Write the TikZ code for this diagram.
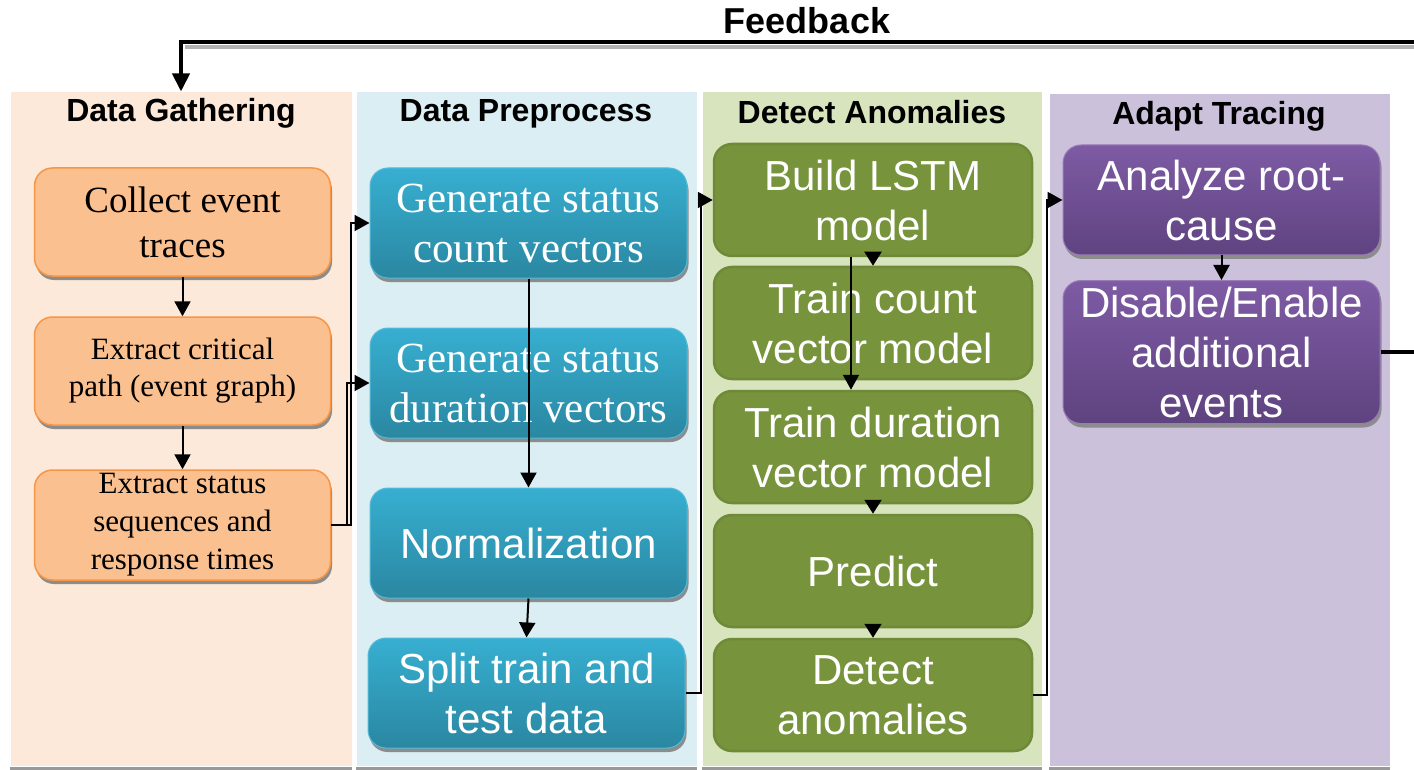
\documentclass[tikz,border=0pt]{standalone}
\usepackage{fontspec}
\setmainfont{Liberation Serif}
\setsansfont{Liberation Sans}
\usetikzlibrary{arrows.meta,shadows}
\definecolor{cAbg}{HTML}{FDE9D9}
\definecolor{cBbg}{HTML}{DAEEF3}
\definecolor{cCbg}{HTML}{D7E4BD}
\definecolor{cDbg}{HTML}{CCC1DA}
\definecolor{orF}{HTML}{FAC090}
\definecolor{orD}{HTML}{F79646}
\definecolor{blT}{HTML}{37AFD1}
\definecolor{blM}{HTML}{33A3C4}
\definecolor{blB}{HTML}{2A87A1}
\definecolor{grF}{HTML}{77933C}
\definecolor{grD}{HTML}{6E8A38}
\definecolor{puT}{HTML}{7E5BA4}
\definecolor{puM}{HTML}{74529A}
\definecolor{puB}{HTML}{5F4380}
\tikzset{
  colbg/.style={draw=white, line width=1pt, inner sep=0pt},
  coltitle/.style={anchor=base, font=\sffamily\bfseries\fontsize{32}{36}\selectfont},
  boxshadow/.style={drop shadow={shadow xshift=1.5pt, shadow yshift=-4pt, fill=black!45, opacity=1}},
  obox/.style={rounded corners=18pt, draw=orD, line width=1.5pt, fill=orF, minimum width=296pt,
    minimum height=108pt, align=center, inner sep=0pt, boxshadow},
  bbox/.style={rounded corners=18pt, draw=blT!85!white, line width=1pt, top color=blT, middle color=blM, bottom color=blB,
    minimum width=317pt, minimum height=110pt, align=center, inner sep=0pt, text=white, boxshadow},
  gbox/.style={rounded corners=18pt, draw=grD, line width=2.5pt, fill=grF,
    minimum width=318pt, minimum height=112pt, align=center, inner sep=0pt, text=white,
    font=\sffamily\fontsize{42}{50}\selectfont},
  pbox/.style={rounded corners=18pt, draw=puT!80!white, line width=1pt, top color=puT, middle color=puM, bottom color=puB,
    minimum width=317pt, minimum height=110pt, align=center, inner sep=0pt, text=white, boxshadow,
    font=\sffamily\fontsize{42}{50}\selectfont},
  arr/.style={line width=2pt, -{Triangle[length=15pt,width=16pt]}},
  arrs/.style={line width=2pt, -{Triangle[length=14pt,width=17pt]}},
  fb/.style={line width=4pt, -{Triangle[length=18pt,width=17pt]}}
}
\begin{document}
\begin{tikzpicture}[x=1pt,y=-1pt]
\useasboundingbox (0,0) rectangle (1414,770);
\clip (0,0) rectangle (1414,770);
\fill[white] (0,0) rectangle (1414,770);

% column backgrounds
\fill[black!40] (10,762) rectangle (352,770);
\fill[black!40] (356,762) rectangle (697,770);
\fill[black!40] (702,762) rectangle (1042,770);
\fill[black!40] (1049,762) rectangle (1390,770);
\node[colbg, fill=cAbg, minimum width=342pt, minimum height=674pt] (col1) at (181,429) {};
\node[colbg, fill=cBbg, minimum width=341pt, minimum height=674pt] (col2) at (526.5,429) {};
\node[colbg, fill=cCbg, minimum width=340pt, minimum height=674pt] (col3) at (872,429) {};
\node[colbg, fill=cDbg, minimum width=341pt, minimum height=672pt] (col4) at (1219.5,430) {};

\node[coltitle] (t1) at (181,122) {Data Gathering};
\node[coltitle] (t2) at (526,122) {Data Preprocess};
\node[coltitle] (t3) at (872,124) {Detect Anomalies};
\node[coltitle] (t4) at (1219,125) {Adapt Tracing};

% feedback
\node[anchor=base, font=\sffamily\bfseries\fontsize{36}{40}\selectfont] (fbl) at (807,34) {Feedback};

% Data gathering boxes
\node[obox, font=\fontsize{37}{45}\selectfont] (b1) at (182.5,222) {Collect event\\traces};
\node[obox, font=\fontsize{31}{37}\selectfont] (b2) at (182.5,371) {Extract critical\\path (event graph)};
\node[obox, font=\fontsize{31}{38}\selectfont, minimum height=110pt] (b3) at (182.5,525) {Extract status\\sequences and\\response times};

% Data preprocess boxes
\node[bbox, font=\fontsize{43}{50}\selectfont] (c1) at (528.5,223) {Generate status\\count vectors};
\node[bbox, font=\fontsize{43}{50}\selectfont] (c2) at (528.5,383) {Generate status\\duration vectors};
\node[bbox, font=\sffamily\fontsize{42}{50}\selectfont] (c3) at (528.5,543) {Normalization};
\node[bbox, font=\sffamily\fontsize{42}{50}\selectfont] (c4) at (526.5,693) {Split train and\\test data};

% Detect anomalies boxes
\node[gbox] (d1) at (873,200) {Build LSTM\\model};
\node[gbox] (d2) at (873,323) {Train count\\vector model};
\node[gbox] (d3) at (873,447) {Train duration\\vector model};
\node[gbox] (d4) at (873,571) {Predict};
\node[gbox] (d5) at (873,695) {Detect\\anomalies};

% Adapt tracing boxes
\node[pbox] (e1) at (1221.5,200) {Analyze root-\\cause};
\node[pbox, minimum height=143pt] (e2) at (1221.5,352) {Disable/Enable\\additional\\events};

% connectors
\draw[arr] (b1) -- (b2);
\draw[arr] (b2) -- (b3);
\draw[arr] (b3.east) -- ++(20,0) |- (c1.west);
\draw[arr] (b3.east) -- ++(16,0) |- (c2.west);
\draw[arr] (c1.south) -- (c3.north);
\draw[arr] (c3.south) -- (c4.north);
\draw[arr] (c4.east) -- ++(15,0) |- (d1.west);
\draw[arrs] (d1.south) -- (d2.north);
\draw[arr] ([xshift=-22pt]d1.south) -- ([xshift=-22pt]d3.north);
\draw[arrs] (d3.south) -- (d4.north);
\draw[arrs] (d4.south) -- (d5.north);
\draw[arr] (d5.east) -- ++(14,0) |- (e1.west);
\draw[arr] (e1.south) -- (e2.north);

\coordinate (fbr) at (1440,42);
\draw[line width=4pt, black!30, transform canvas={yshift=-5pt}] (1440,42) -- (185,42);
\draw[fb] (e2.east) -| (fbr) -| (col1.north);
\end{tikzpicture}
\end{document}
